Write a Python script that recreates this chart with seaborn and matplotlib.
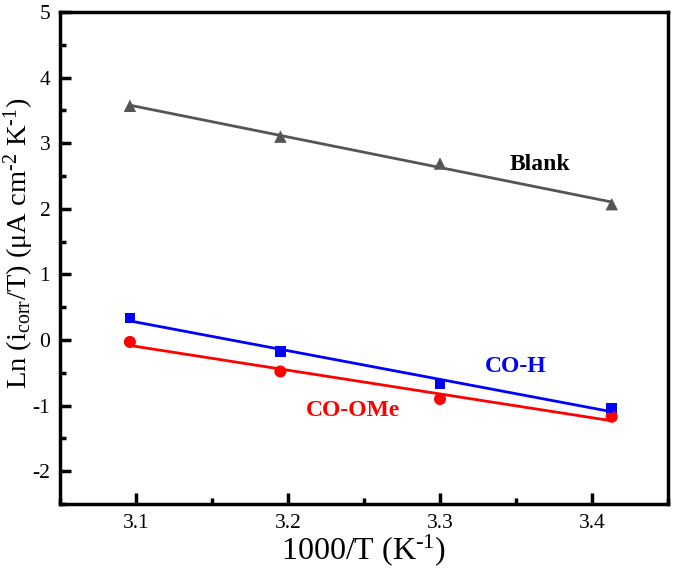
import numpy as np
import pandas as pd
import matplotlib
matplotlib.use("Agg")
import matplotlib.pyplot as plt
import seaborn as sns
from matplotlib.ticker import MultipleLocator

inv_T = [3.096, 3.195, 3.300, 3.413]
blank = [3.57, 3.10, 2.69, 2.07]
co_h = [0.335, -0.17, -0.67, -1.04]
co_ome = [-0.03, -0.48, -0.90, -1.17]

series_names = ["Blank", "CO-H", "CO-OMe"]
series_vals = [blank, co_h, co_ome]
colors = ["#555555", "#0000FF", "#FF0000"]
markers = ["^", "s", "o"]
msizes = [80, 60, 75]
label_pos = [(3.366, 2.67), (3.35, -0.41), (3.243, -1.07)]

sns.set_style("ticks")
plt.rcParams["font.family"] = ["Liberation Serif", "DejaVu Serif"]
plt.rcParams["mathtext.fontset"] = "custom"
plt.rcParams["mathtext.rm"] = "Liberation Serif"
plt.rcParams["mathtext.it"] = "Liberation Serif:italic"
plt.rcParams["axes.unicode_minus"] = False
plt.rcParams["axes.edgecolor"] = "black"
plt.rcParams["xtick.color"] = "black"
plt.rcParams["ytick.color"] = "black"
plt.rcParams["text.color"] = "black"
plt.rcParams["axes.labelcolor"] = "black"

fig = plt.figure(figsize=(6.85, 5.84), dpi=100)
ax = fig.add_axes([60/685, 1-504/584, 608/685, 492/584])

for name, vals, c, m, s, (lx, ly) in zip(series_names, series_vals, colors, markers, msizes, label_pos):
    df = pd.DataFrame({"x": inv_T, "y": vals})
    sns.regplot(data=df, x="x", y="y", ax=ax, ci=None, color=c, marker=m,
                scatter_kws={"s": s, "edgecolor": "none", "alpha": 1},
                line_kws={"lw": 2})
    ax.text(lx, ly, name, color="black" if name == "Blank" else c, fontsize=17,
            fontweight="bold", ha="center", va="center")

ax.set_xlim(3.05, 3.45)
ax.set_ylim(-2.5, 5)
ax.xaxis.set_major_locator(MultipleLocator(0.1))
ax.xaxis.set_minor_locator(MultipleLocator(0.05))
ax.yaxis.set_major_locator(MultipleLocator(1))
ax.yaxis.set_minor_locator(MultipleLocator(0.5))
ax.tick_params(which="both", direction="in", top=False, right=False, labelsize=15.5, width=2.5)
ax.tick_params(which="major", length=8, pad=7)
ax.tick_params(which="minor", length=4)
for sp in ax.spines.values():
    sp.set_linewidth(2.5)
    sp.set_visible(True)

ax.set_xlabel("1000/T (K$^{\\text{-}1}$)", fontsize=23, labelpad=0)
ax.set_ylabel("Ln (i$_{\\mathrm{corr}}$/T) (μA cm$^{\\text{-}2}$ K$^{\\text{-}1}$)", fontsize=20.5, labelpad=0)
ax.yaxis.set_label_coords(-0.04, 0.53)

fig.savefig("out.png", dpi=100)
